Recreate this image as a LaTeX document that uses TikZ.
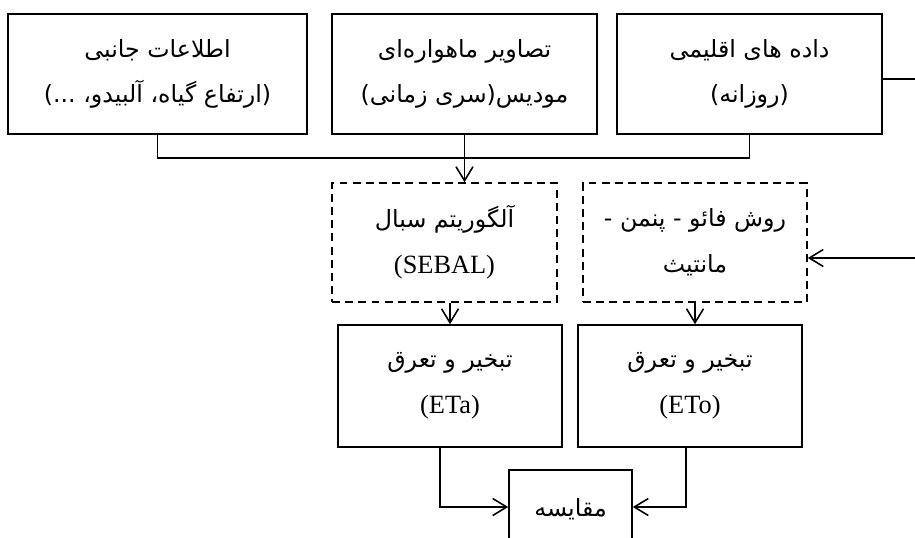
\documentclass[tikz,border=0pt]{standalone}
\usepackage{fontspec}
\setmainfont{Liberation Serif}
\newfontfamily\fa[Script=Arabic]{DejaVu Sans}
\TeXXeTstate=1
\newcommand\rtl[1]{{\fa\beginR #1\endR}}
\newcommand\lat[1]{{\fontsize{15}{26}\selectfont #1}}
\usetikzlibrary{arrows.meta}
\tikzstyle{databox} = [rectangle, draw=black, line width=0.9pt, align=center, font=\fontsize{13.5}{26}\selectfont, minimum height=2.4cm]
\tikzstyle{methodbox} = [databox, dash pattern=on 4.5pt off 3pt]
\tikzstyle{arrow} = [line width=0.9pt, -{Straight Barb[length=2.8mm, width=3.4mm]}]
\tikzstyle{link} = [line width=0.9pt]

\begin{document}
\begin{tikzpicture}[x=0.02cm, y=-0.02cm]
	\useasboundingbox (0,0) rectangle (915,537);
	\node[databox, minimum width=5.98cm] (info) at (157.5,74) {\rtl{اطلاعات جانبی}\\ \rtl{(ارتفاع گیاه، آلبیدو، ...)}};
	\node[databox, minimum width=5.3cm] (modis) at (464.5,74) {\rtl{تصاویر ماهواره‌ای}\\ \rtl{مودیس(سری زمانی)}};
	\node[databox, minimum width=5.3cm] (climate) at (749.5,74) {\rtl{داده های اقلیمی}\\ \rtl{(روزانه)}};
	
	\node[methodbox, minimum width=4.5cm, minimum height=2.38cm] (sebal) at (444.5,242.5) {\rtl{آلگوریتم سبال}\\ \lat{(SEBAL)}};
	\node[methodbox, minimum width=4.48cm, minimum height=2.38cm] (fao) at (695,242.5) {\rtl{روش فائو - پنمن -}\\ \rtl{مانتیث}};
	
	\node[databox, minimum width=4.48cm, minimum height=2.44cm] (eta) at (450,386) {\rtl{تبخیر و تعرق}\\ \lat{(ETa)}};
	\node[databox, minimum width=4.48cm, minimum height=2.44cm] (eto) at (690,386) {\rtl{تبخیر و تعرق}\\ \lat{(ETo)}};
	
	\node[databox, minimum width=2.46cm, minimum height=2.4cm, text depth=0.9cm] (compare) at (570.5,530) {\rtl{مقایسه}};
	
	\coordinate (join) at (464.5,158);
	\coordinate (edgeA) at (915,79);
	\coordinate (edgeB) at (915,258);
	
	\draw[link] (info.south) |- (join) -| (climate.south);
	\draw[arrow] (modis.south) -- (modis.south |- sebal.north);
	\draw[link] (climate.east |- edgeA) -- (edgeA);
	\draw[arrow] (edgeB) -- (edgeB -| fao.east);
	\draw[arrow] (eta.north |- sebal.south) -- (eta.north);
	\draw[arrow] (fao.south) -- (fao.south |- eto.north);
	\draw[arrow] ([xshift=-0.2cm]eta.south) |- ([yshift=0.46cm]compare.west);
	\draw[arrow] ([xshift=-0.08cm]eto.south) |- ([yshift=0.46cm]compare.east);
\end{tikzpicture}
\end{document}
